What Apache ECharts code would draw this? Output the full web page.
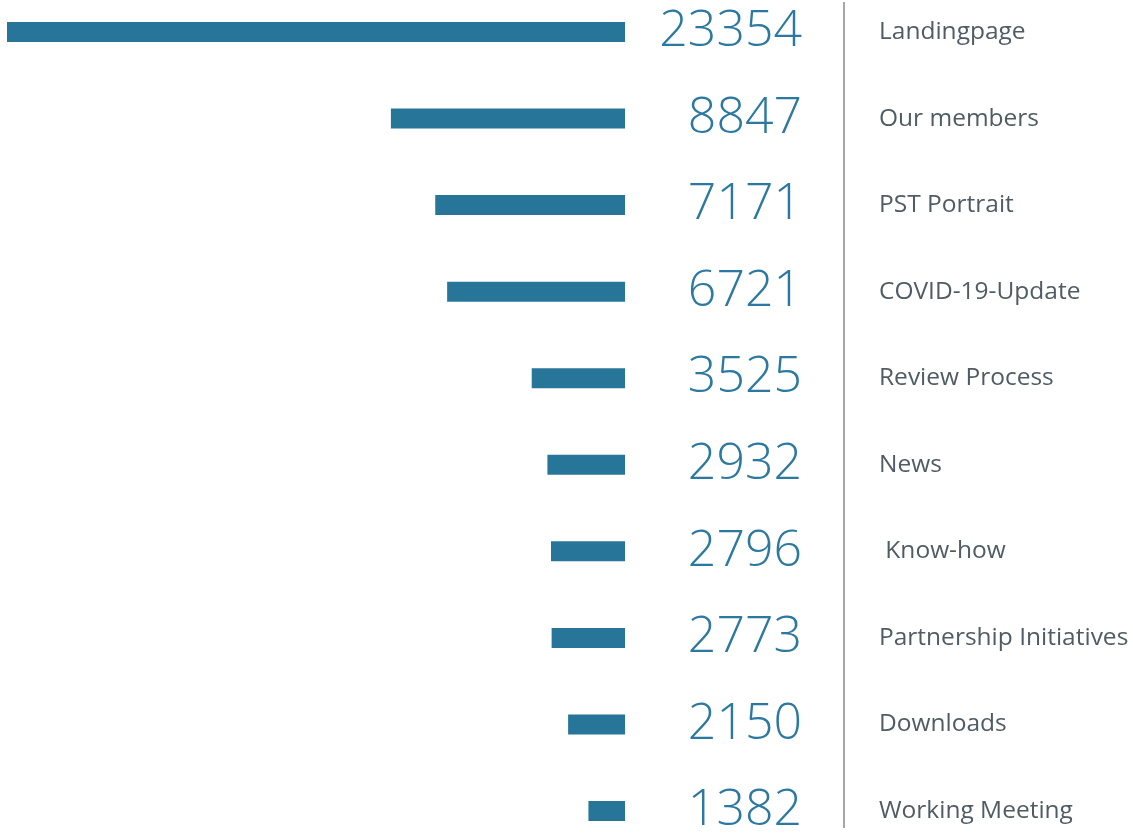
<!DOCTYPE html>
<html>
<head>
<meta charset="utf-8">
<script src="https://cdn.jsdelivr.net/npm/echarts@6/dist/echarts.min.js"></script>
<style>
  html, body { margin: 0; padding: 0; background: #fff; }
  #chart { width: 1133px; height: 836px; }
</style>
</head>
<body>
<div id="chart"></div>
<script>
// 页面名称 / 访问量
var pages = ['Landingpage', 'Our members', 'PST Portrait', 'COVID-19-Update', 'Review Process',
  'News', ' Know-how', 'Partnership Initiatives', 'Downloads', 'Working Meeting'];
var visits = [23354, 8847, 7171, 6721, 3525, 2932, 2796, 2773, 2150, 1382];

var barColor = '#277599';
var numColor = '#2b79a0';
var textColor = '#505c63';

var myChart = echarts.init(document.getElementById('chart'));
var option = {
  backgroundColor: '#fff',
  animation: false,
  grid: { left: 7, right: 508, top: 32, bottom: 23, containLabel: false },
  xAxis: {
    type: 'value',
    inverse: true,
    min: 0,
    max: 23354,
    show: false
  },
  yAxis: [
    {
      type: 'category',
      data: pages,
      inverse: true,
      boundaryGap: false,
      show: false
    },
    {
      // 数值
      type: 'category',
      data: visits.map(String),
      inverse: true,
      boundaryGap: false,
      position: 'right',
      axisLine: { show: false },
      axisTick: { show: false },
      axisLabel: {
        align: 'right',
        margin: 177,
        color: numColor,
        fontFamily: 'Open Sans',
        fontWeight: 300,
        fontSize: 50,
        padding: [5, 0, 0, 0]
      }
    },
    {
      // 名称
      type: 'category',
      data: pages,
      inverse: true,
      boundaryGap: false,
      position: 'right',
      axisLine: { show: false },
      axisTick: { show: false },
      axisLabel: {
        align: 'left',
        margin: 254,
        color: textColor,
        fontFamily: 'Open Sans',
        fontSize: 24.5,
        padding: [4, 0, 0, 0]
      }
    }
  ],
  graphic: [{
    type: 'line',
    shape: { x1: 844, y1: 2, x2: 844, y2: 828 },
    style: { stroke: '#8a8a8a', lineWidth: 1.5 }
  }],
  series: [{
    type: 'bar',
    yAxisIndex: 0,
    data: visits,
    barWidth: 20,
    itemStyle: { color: barColor }
  }]
};
myChart.setOption(option);
</script>
</body>
</html>
